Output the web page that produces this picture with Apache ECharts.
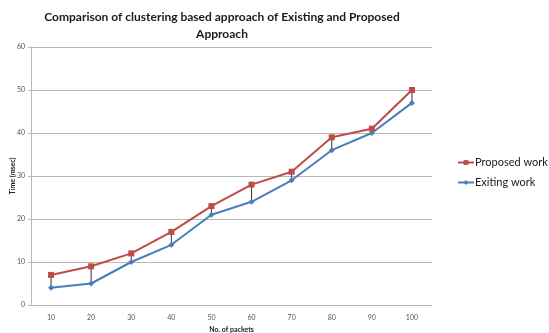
<!DOCTYPE html>
<html>
<head>
<meta charset="utf-8">
<script src="https://cdn.jsdelivr.net/npm/echarts@6/dist/echarts.min.js"></script>
<style>
  html, body { margin: 0; padding: 0; background: #fff; }
  #chart { width: 549px; height: 333px; }
</style>
</head>
<body>
<div id="chart"></div>
<script>
// Packet counts on the x axis
const packets = ['10', '20', '30', '40', '50', '60', '70', '80', '90', '100'];
// Time in msec for each approach
const proposedWork = [7, 9, 12, 17, 23, 28, 31, 39, 41, 50];
const exitingWork = [4, 5, 10, 14, 21, 24, 29, 36, 40, 47];
const yTicks = { min: 0, max: 60, interval: 10 };

const chart = echarts.init(document.getElementById('chart'));

const font = 'Lato, "Open Sans", sans-serif';

chart.setOption({
  animation: false,
  backgroundColor: '#ffffff',
  title: {
    text: 'Comparison of clustering based approach of Existing and Proposed\nApproach',
    left: 217,
    top: 4,
    textAlign: 'center',
    textStyle: {
      fontFamily: font,
      fontSize: 12,
      fontWeight: 'bold',
      color: '#1a1a1a',
      lineHeight: 17
    }
  },
  legend: {
    data: ['Proposed work', 'Exiting work'],
    orient: 'vertical',
    left: 452,
    top: 152,
    itemGap: 9,
    itemWidth: 16,
    itemHeight: 6,
    textStyle: { fontFamily: font, fontSize: 11, color: '#1a1a1a', padding: [0, 0, 0, -4] }
  },
  grid: { left: 31, right: 117, top: 47, bottom: 28, outerBoundsMode: 'none', containLabel: false },
  xAxis: {
    type: 'category',
    data: packets,
    boundaryGap: true,
    name: 'No. of packets',
    nameLocation: 'middle',
    nameGap: 21,
    nameMoveOverlap: false,
    nameTextStyle: { fontFamily: font, fontSize: 7, fontWeight: 'bold', color: '#222' },
    axisLine: { lineStyle: { color: '#b8b8b8', width: 1 } },
    axisTick: { show: false },
    axisLabel: { fontFamily: font, fontSize: 7, color: '#555', margin: 9 }
  },
  yAxis: {
    type: 'value',
    min: yTicks.min,
    max: yTicks.max,
    interval: yTicks.interval,
    name: 'Time (msec)',
    nameLocation: 'middle',
    nameGap: 15,
    nameMoveOverlap: false,
    nameRotate: 90,
    nameTextStyle: { fontFamily: font, fontSize: 7, fontWeight: 'bold', color: '#222' },
    axisLine: { show: true, lineStyle: { color: '#b8b8b8', width: 1 } },
    axisTick: { show: true, length: 3, lineStyle: { color: '#b8b8b8' } },
    axisLabel: { fontFamily: font, fontSize: 7, color: '#555', margin: 6 },
    splitLine: { lineStyle: { color: '#b8b8b8', width: 1 } }
  },
  series: [
    {
      // High-low lines joining the two series at each packet count
      type: 'custom',
      name: 'hilo',
      silent: true,
      z: 1,
      data: packets.map((p, i) => [i, proposedWork[i], exitingWork[i]]),
      encode: { x: 0, y: [1, 2] },
      renderItem: function (params, api) {
        const top = api.coord([api.value(0), api.value(1)]);
        const bottom = api.coord([api.value(0), api.value(2)]);
        return {
          type: 'line',
          shape: { x1: top[0], y1: top[1], x2: bottom[0], y2: bottom[1] },
          style: { stroke: '#333333', lineWidth: 1 }
        };
      }
    },
    {
      name: 'Proposed work',
      type: 'line',
      data: proposedWork,
      z: 3,
      symbol: 'rect',
      symbolSize: 6,
      lineStyle: { color: '#be4b48', width: 2 },
      itemStyle: { color: '#be4b48' }
    },
    {
      name: 'Exiting work',
      type: 'line',
      data: exitingWork,
      z: 2,
      symbol: 'diamond',
      symbolSize: 6,
      lineStyle: { color: '#4a7ebb', width: 2 },
      itemStyle: { color: '#4a7ebb' }
    }
  ]
});
</script>
</body>
</html>
